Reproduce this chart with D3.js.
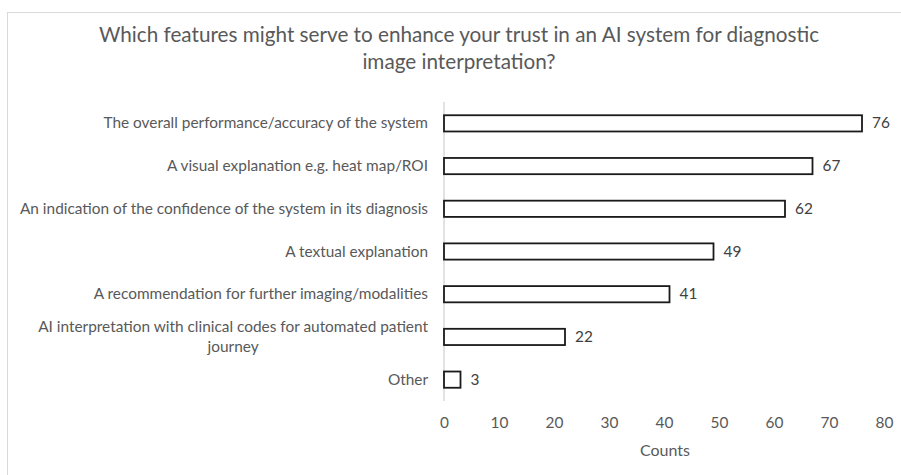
<!DOCTYPE html>
<html><head><meta charset="utf-8">
<script src="https://cdn.jsdelivr.net/npm/d3@7"></script>
<style>body{margin:0;background:#fff}svg{display:block}</style>
</head><body>
<svg id="c" width="901" height="475"></svg>
<script>
const categories = [
  ["The overall performance/accuracy of the system"],
  ["A visual explanation e.g. heat map/ROI"],
  ["An indication of the confidence of the system in its diagnosis"],
  ["A textual explanation"],
  ["A recommendation for further imaging/modalities"],
  ["AI interpretation with clinical codes for automated patient", "journey"],
  ["Other"]
];
const counts = [76, 67, 62, 49, 41, 22, 3];
const xTicks = [0, 10, 20, 30, 40, 50, 60, 70, 80];
const titleLines = ["Which features might serve to enhance your trust in an AI system for diagnostic", "image interpretation?"];
const xTitle = "Counts";

const svg = d3.select("#c");
const font = "Lato, 'Open Sans', sans-serif";
svg.append("rect").attr("x", 7.5).attr("y", 12.5).attr("width", 1000).attr("height", 1000)
  .attr("fill", "#fff").attr("stroke", "#d9d9d9").attr("stroke-width", 1);

const idx = d3.range(categories.length);
const x = d3.scaleLinear().domain([0, 80]).range([444, 884]);
const y = d3.scaleBand().domain(idx).range([102, 401]).paddingInner(0.62).paddingOuter(0.31);

// title
svg.append("text").attr("x", 459).attr("y", 42).attr("text-anchor", "middle")
  .attr("font-family", font).attr("font-size", 20.7).attr("fill", "#595959")
  .selectAll("tspan").data(titleLines).join("tspan")
  .attr("x", 459).attr("dy", (d, i) => i ? 27 : 0).text(d => d);

// x axis (no line, labels only)
const xa = svg.append("g").attr("transform", "translate(0,401)")
  .call(d3.axisBottom(x).tickValues(xTicks).tickSize(0).tickPadding(16));
xa.select(".domain").remove();
xa.selectAll("text").attr("font-family", font).attr("font-size", 15.4).attr("fill", "#595959");

// y axis line
const ya = svg.append("g").attr("transform", "translate(444,0)")
  .call(d3.axisLeft(y).tickSize(0).tickFormat(""));
ya.select(".domain").attr("stroke", "#d9d9d9").attr("stroke-width", 1.5)
  .attr("d", `M0,${y.range()[0]}V${y.range()[1]}`);

// category labels
const lab = svg.append("g").selectAll("text").data(idx).join("text")
  .attr("text-anchor", "end").attr("font-family", font).attr("font-size", 15.4).attr("fill", "#595959")
  .attr("y", i => y(i) + y.bandwidth() / 2 + 5 - (categories[i].length - 1) * 10);
lab.selectAll("tspan").data(i => categories[i].map(t => ({t, n: categories[i].length})))
  .join("tspan")
  .attr("x", 428)
  .attr("dy", (d, j) => j ? 20 : 0)
  .text(d => d.t);
// center second line of wrapped labels under the first
lab.each(function(i) {
  if (categories[i].length > 1) {
    const ts = d3.select(this).selectAll("tspan").nodes();
    const w = ts[0].getComputedTextLength();
    d3.select(ts[1]).attr("x", 428 - w / 2).attr("text-anchor", "middle");
    d3.select(ts[0]).attr("text-anchor", "end");
  }
});

// bars
svg.append("g").selectAll("rect").data(idx).join("rect")
  .attr("x", x(0)).attr("y", i => y(i)).attr("width", i => x(counts[i]) - x(0))
  .attr("height", y.bandwidth()).attr("fill", "#fff").attr("stroke", "#1a1a1a").attr("stroke-width", 1.8);

// value labels
svg.append("g").selectAll("text").data(idx).join("text")
  .attr("x", i => x(counts[i]) + 10).attr("y", i => y(i) + y.bandwidth() / 2 + 5)
  .attr("font-family", font).attr("font-size", 15.4).attr("fill", "#404040")
  .text(i => counts[i]);

// x title
svg.append("text").attr("x", 665).attr("y", 456).attr("text-anchor", "middle")
  .attr("font-family", font).attr("font-size", 16).attr("fill", "#595959").text(xTitle);
</script>
</body></html>
